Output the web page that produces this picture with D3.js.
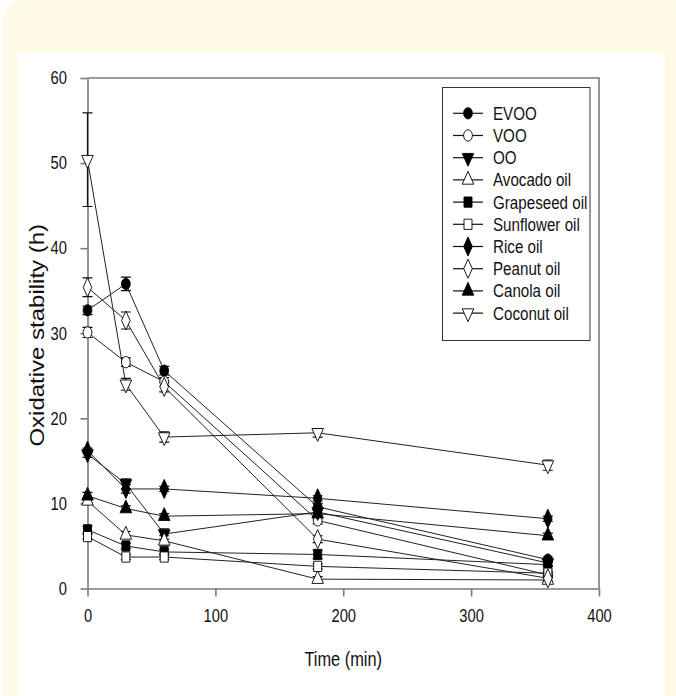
<!DOCTYPE html>
<html>
<head>
<meta charset="utf-8">
<script src="https://cdn.jsdelivr.net/npm/d3@7"></script>
<style>
  html, body { margin: 0; padding: 0; background: #fff; }
  svg { display: block; }
</style>
</head>
<body>
<div id="chart"></div>
<script>
// sampling times (min)
const times = [0, 30, 60, 180, 360];

const seriesNames = ["EVOO", "VOO", "OO", "Avocado oil", "Grapeseed oil",
  "Sunflower oil", "Rice oil", "Peanut oil", "Canola oil", "Coconut oil"];

// oxidative stability (h)
const evoo      = [32.7, 35.8, 25.6, 9.6, 3.4];
const voo       = [30.1, 26.6, 24.3, 8.0, 1.6];
const oo        = [15.8, 12.3, 6.4, 9.0, 3.0];
const avocado   = [10.3, 6.3, 5.6, 1.1, 1.0];
const grapeseed = [6.9, 5.0, 4.3, 4.0, 2.8];
const sunflower = [6.1, 3.7, 3.7, 2.6, 1.8];
const rice      = [16.2, 11.7, 11.7, 10.6, 8.2];
const peanut    = [35.4, 31.5, 23.7, 5.8, 1.2];
const canola    = [10.9, 9.4, 8.5, 8.8, 6.2];
const coconut   = [50.4, 24.0, 17.8, 18.3, 14.5];

// standard deviations
const evooErr      = [0.5, 0.8, 0.5, 0.4, 0.3];
const vooErr       = [0.6, 0.5, 0.5, 0.4, 0.2];
const ooErr        = [0.4, 0.6, 0.6, 0.4, 0.3];
const avocadoErr   = [0.3, 0.4, 0.6, 0.3, 0.2];
const grapeseedErr = [0.4, 0.3, 0.3, 0.5, 0.2];
const sunflowerErr = [0.3, 0.3, 0.3, 0.3, 0.2];
const riceErr      = [0.3, 0.5, 0.3, 0.3, 0.3];
const peanutErr    = [1.1, 1.0, 0.6, 0.4, 0.3];
const canolaErr    = [0.4, 0.3, 0.3, 0.6, 0.3];
const coconutErr   = [5.5, 0.7, 0.6, 0.5, 0.6];

const xTicks = [0, 100, 200, 300, 400];
const yTicks = [0, 10, 20, 30, 40, 50, 60];

const seriesValues = [evoo, voo, oo, avocado, grapeseed, sunflower, rice, peanut, canola, coconut];
const seriesErrors = [evooErr, vooErr, ooErr, avocadoErr, grapeseedErr, sunflowerErr, riceErr, peanutErr, canolaErr, coconutErr];

// marker look per series
const markerStyle = {
  "EVOO":          {shape: "circle",   fill: "#000"},
  "VOO":           {shape: "circle",   fill: "#fff"},
  "OO":            {shape: "triDown",  fill: "#000"},
  "Avocado oil":   {shape: "triUp",    fill: "#fff"},
  "Grapeseed oil": {shape: "square",   fill: "#000"},
  "Sunflower oil": {shape: "square",   fill: "#fff"},
  "Rice oil":      {shape: "diamond",  fill: "#000"},
  "Peanut oil":    {shape: "diamond",  fill: "#fff"},
  "Canola oil":    {shape: "triUp",    fill: "#000"},
  "Coconut oil":   {shape: "triDown",  fill: "#fff"}
};

const data = seriesNames.map((name, s) => ({
  name,
  points: times.map((t, i) => ({t, v: seriesValues[s][i], e: seriesErrors[s][i]}))
}));

const width = 676, height = 696;
const squeeze = 0.82; // the original is a horizontally squeezed render

const x = d3.scaleLinear([0, 400], [87.5, 599]);
const y = d3.scaleLinear([0, 60], [588.5, 78]);

const svg = d3.select("#chart").append("svg")
    .attr("width", width)
    .attr("height", height)
    .attr("viewBox", [0, 0, width, height])
    .style("font-family", "'Liberation Sans', Arial, sans-serif");

// page panel
svg.append("rect").attr("x", 2).attr("y", 0).attr("width", 690).attr("height", 740)
    .attr("rx", 24).attr("fill", "#fffae6");
svg.append("rect").attr("x", 18).attr("y", 53).attr("width", 647).attr("height", 700)
    .attr("fill", "#fff");

const symbolType = {
  circle: d3.symbolCircle, triUp: d3.symbolTriangle, triDown: d3.symbolTriangle,
  square: d3.symbolSquare, diamond: d3.symbolDiamond
};
const symbolSize = {circle: 100, triUp: 95, triDown: 95, square: 105, diamond: 105};

function marker(g, name, cx, cy) {
  const st = markerStyle[name];
  g.append("path")
      .attr("d", d3.symbol(symbolType[st.shape], symbolSize[st.shape])())
      .attr("transform", `translate(${cx},${cy}) scale(${squeeze * 0.95},1)` + (st.shape === "triDown" ? " rotate(180)" : ""))
      .attr("fill", st.fill)
      .attr("stroke", "#000")
      .attr("stroke-width", 1);
}

// frame
const axisColor = "#7a7a7a";
svg.append("path")
    .attr("d", `M${x(0)},${y(60)}H${x(400)}V${y(0)}`)
    .attr("fill", "none").attr("stroke", axisColor).attr("stroke-width", 1.6);

// axes
svg.append("g")
    .attr("transform", `translate(0,${y(0)})`)
    .call(d3.axisBottom(x).tickValues(xTicks).tickSize(8).tickPadding(13).tickSizeOuter(0))
    .call(g => g.select(".domain").attr("stroke", axisColor).attr("stroke-width", 1.6))
    .call(g => g.selectAll(".tick line").attr("stroke", axisColor).attr("stroke-width", 1.6))
    .call(g => g.selectAll(".tick text")
        .attr("font-size", 18).attr("fill", "#111")
        .attr("transform", `scale(${squeeze},1)`));

svg.append("g")
    .attr("transform", `translate(${x(0)},0)`)
    .call(d3.axisLeft(y).tickValues(yTicks).tickSize(7).tickPadding(18).tickSizeOuter(0))
    .call(g => g.select(".domain").attr("stroke", axisColor).attr("stroke-width", 1.6))
    .call(g => g.selectAll(".tick line").attr("stroke", axisColor).attr("stroke-width", 1.6))
    .call(g => g.selectAll(".tick text")
        .attr("font-size", 18).attr("fill", "#111")
        .attr("transform", `scale(${squeeze},1)`));

// axis titles
svg.append("text")
    .attr("transform", `translate(${x(200)},666) scale(${squeeze},1)`)
    .attr("text-anchor", "middle")
    .attr("font-size", 20).attr("fill", "#111")
    .text("Time (min)");

svg.append("text")
    .attr("transform", `translate(44,${(y(0) + y(60)) / 2 + 2}) scale(${squeeze},1) rotate(-90)`)
    .attr("text-anchor", "middle")
    .attr("font-size", 24).attr("fill", "#111")
    .text("Oxidative stability (h)");

// lines
const line = d3.line().x(d => x(d.t)).y(d => y(d.v));
svg.append("g")
  .selectAll("path")
  .data(data)
  .join("path")
    .attr("d", d => line(d.points))
    .attr("fill", "none")
    .attr("stroke", "#222")
    .attr("stroke-width", 1);

// error bars
const errG = svg.append("g").attr("stroke", "#111").attr("stroke-width", 1.2);
data.forEach(s => s.points.forEach(p => {
  const cx = x(p.t), y1 = y(p.v + p.e), y2 = y(p.v - p.e);
  errG.append("path").attr("d", `M${cx},${y1}V${y2}M${cx - 5},${y1}H${cx + 5}M${cx - 5},${y2}H${cx + 5}`);
}));

// markers
const markG = svg.append("g");
data.forEach(s => s.points.forEach(p => marker(markG, s.name, x(p.t), y(p.v))));

// legend
const legend = svg.append("g");
legend.append("rect")
    .attr("x", 442.5).attr("y", 87.5).attr("width", 147.5).attr("height", 253)
    .attr("fill", "#fff").attr("stroke", "#333").attr("stroke-width", 1);
seriesNames.forEach((name, i) => {
  const ly = 113.3 + i * 22.2;
  legend.append("line").attr("x1", 453).attr("x2", 483).attr("y1", ly).attr("y2", ly)
      .attr("stroke", "#111").attr("stroke-width", 1.2);
  marker(legend, name, 468, ly);
  legend.append("text")
      .attr("transform", `translate(493,${ly + 6.5}) scale(${squeeze},1)`)
      .attr("font-size", 18.5).attr("fill", "#111")
      .text(name);
});
</script>
</body>
</html>
